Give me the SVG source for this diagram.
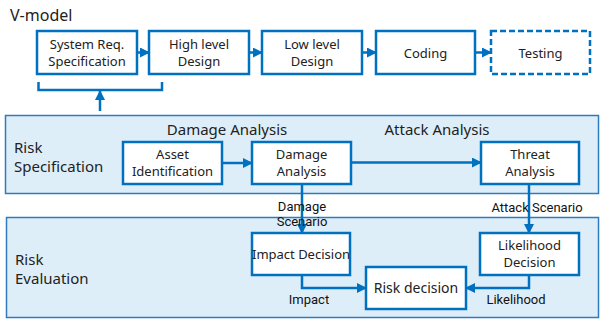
<svg xmlns="http://www.w3.org/2000/svg" width="601" height="320" viewBox="0 0 601 320">
  <defs>
    <marker id="arr" viewBox="0 0 10 10" refX="9" refY="5" markerWidth="4" markerHeight="4" orient="auto" markerUnits="strokeWidth">
      <path d="M0,0 L10,5 L0,10 z" fill="#0070C0"/>
    </marker>
    <style>
      .box { fill: #ffffff; stroke: #0070C0; stroke-width: 2.5; }
      .dash { fill: #ffffff; stroke: #0070C0; stroke-width: 2.5; stroke-dasharray: 6 3; }
      .panel { fill: #DEEEF9; stroke: #2E7BC0; stroke-width: 1.5; }
      .line { fill: none; stroke: #0070C0; stroke-width: 2.5; }
      .t { font-family: "Noto Sans", "Open Sans", sans-serif; fill: #222; }
      .lbl { font-family: Roboto, "Liberation Sans", sans-serif; fill: #111; font-size: 13px; }
      .c { text-anchor: middle; }
    </style>
  </defs>

  <!-- V-model row -->
  <text class="t" x="10" y="21" font-size="16">V-model</text>

  <g id="sysreq">
    <rect class="box" x="37" y="31" width="100" height="43"/>
    <text class="t c" x="87" y="49" font-size="13">System Req.</text>
    <text class="t c" x="87" y="66" font-size="13">Specification</text>
  </g>
  <g id="highlevel">
    <rect class="box" x="149" y="31" width="100" height="43"/>
    <text class="t c" x="199" y="49" font-size="13">High level</text>
    <text class="t c" x="199" y="66" font-size="13">Design</text>
  </g>
  <g id="lowlevel">
    <rect class="box" x="262" y="31" width="100" height="43"/>
    <text class="t c" x="312" y="49" font-size="13">Low level</text>
    <text class="t c" x="312" y="66" font-size="13">Design</text>
  </g>
  <g id="coding">
    <rect class="box" x="376" y="31" width="99" height="43"/>
    <text class="t c" x="425.5" y="58" font-size="13">Coding</text>
  </g>
  <g id="testing">
    <rect class="dash" x="491" y="31" width="99" height="43"/>
    <text class="t c" x="540.5" y="58" font-size="13">Testing</text>
  </g>

  <!-- Risk panels -->
  <g id="riskspec">
    <rect class="panel" x="5.5" y="115.5" width="593" height="78"/>
    <text class="t" x="14" y="153" font-size="15">Risk</text>
    <text class="t" x="14" y="172" font-size="15">Specification</text>
    <text class="t c" x="227" y="135" font-size="15">Damage Analysis</text>
    <text class="t c" x="437" y="135" font-size="15">Attack Analysis</text>
  </g>
  <g id="riskeval">
    <rect class="panel" x="6.5" y="217.5" width="592" height="100"/>
    <text class="t" x="15" y="265" font-size="15">Risk</text>
    <text class="t" x="15" y="284" font-size="15">Evaluation</text>
  </g>

  <g id="asset">
    <rect class="box" x="123" y="142" width="99" height="42"/>
    <text class="t c" x="172.5" y="159" font-size="13">Asset</text>
    <text class="t c" x="172.5" y="176" font-size="13">Identification</text>
  </g>
  <g id="damage">
    <rect class="box" x="252" y="142" width="99" height="42"/>
    <text class="t c" x="301.5" y="159" font-size="13">Damage</text>
    <text class="t c" x="301.5" y="176" font-size="13">Analysis</text>
  </g>
  <g id="threat">
    <rect class="box" x="481" y="142" width="98" height="42"/>
    <text class="t c" x="530" y="159" font-size="13">Threat</text>
    <text class="t c" x="530" y="176" font-size="13">Analysis</text>
  </g>
  <g id="impact">
    <rect class="box" x="252" y="233" width="98" height="42"/>
    <text class="t c" x="301" y="259" font-size="13">Impact Decision</text>
  </g>
  <g id="likelihood">
    <rect class="box" x="480" y="233" width="99" height="42"/>
    <text class="t c" x="529.5" y="250" font-size="13">Likelihood</text>
    <text class="t c" x="529.5" y="267" font-size="13">Decision</text>
  </g>
  <g id="riskdecision">
    <rect class="box" x="366" y="267" width="100" height="42"/>
    <text class="t c" x="416" y="293" font-size="14">Risk decision</text>
  </g>

  <!-- Connectors -->
  <g id="connectors">
    <line class="line" x1="137" y1="52.5" x2="149" y2="52.5" marker-end="url(#arr)"/>
    <line class="line" x1="249" y1="52.5" x2="262" y2="52.5" marker-end="url(#arr)"/>
    <line class="line" x1="362" y1="52.5" x2="376" y2="52.5" marker-end="url(#arr)"/>
    <line class="line" x1="475" y1="52.5" x2="491" y2="52.5" marker-end="url(#arr)"/>
    <path class="line" d="M38.5,82 V90 H162 V82"/>
    <line class="line" x1="100" y1="111" x2="100" y2="91" marker-end="url(#arr)"/>
    <line class="line" x1="222" y1="163" x2="252" y2="163" marker-end="url(#arr)"/>
    <line class="line" x1="351" y1="162.5" x2="481" y2="162.5" marker-end="url(#arr)"/>
    <line class="line" x1="302" y1="184" x2="302" y2="233" marker-end="url(#arr)"/>
    <line class="line" x1="529" y1="184" x2="529" y2="233" marker-end="url(#arr)"/>
    <path class="line" d="M302,275 V288 H366" marker-end="url(#arr)"/>
    <path class="line" d="M529,275 V288 H466" marker-end="url(#arr)"/>
    <text class="lbl c" x="302" y="211">Damage</text>
    <text class="lbl c" x="302" y="226">Scenario</text>
    <text class="lbl c" x="537" y="212">Attack Scenario</text>
    <text class="lbl c" x="309" y="304">Impact</text>
    <text class="lbl c" x="516" y="304">Likelihood</text>
  </g>
</svg>
